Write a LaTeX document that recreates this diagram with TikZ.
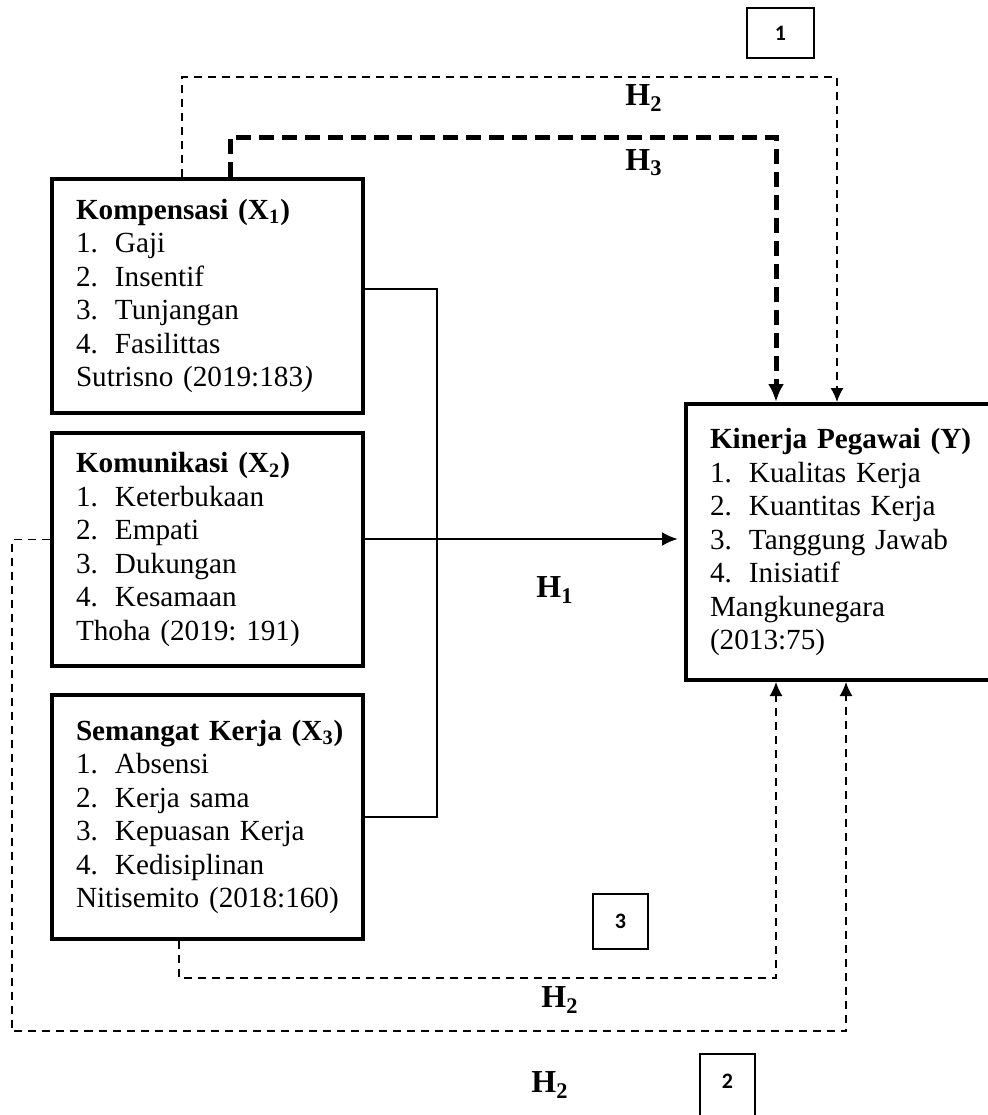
\documentclass[tikz,border=0pt]{standalone}
\usepackage{fontspec}
\setmainfont{Liberation Serif}
\newfontfamily\numfont{Carlito}
\usetikzlibrary{arrows.meta}

\newcommand{\itm}[2]{\makebox[19.5pt][l]{#1}#2}
\newcommand{\boxtitle}[1]{\mbox{\bfseries #1}}

\begin{document}
\begin{tikzpicture}[x=0.5pt,y=0.5pt,>={Latex[length=7pt,width=6.5pt]},
  varbox/.style={draw,line width=2pt,anchor=north west,align=left,inner xsep=12pt,inner ysep=0pt,
    font=\fontsize{14.6pt}{16.75pt}\selectfont\frenchspacing},
  link/.style={line width=1.35pt},
  thindash/.style={line width=0.75pt,dash pattern=on 4pt off 3pt},
  thickdash/.style={line width=2.5pt,dash pattern=on 7.5pt off 4pt},
  hlabel/.style={font=\bfseries\fontsize{16pt}{18pt}\selectfont},
  numbox/.style={draw,line width=1pt,inner sep=0pt,font=\numfont\bfseries\fontsize{11pt}{13pt}\selectfont}]
  \useasboundingbox (0,0) rectangle (988,-1115);

  % variable boxes
  \node[varbox,text width=131.5pt,minimum height=117pt] (kompensasi) at (50,-177)
    {\boxtitle{Kompensasi (X\textsubscript{1})}\\ \itm{1.}{Gaji}\\ \itm{2.}{Insentif}\\
     \itm{3.}{Tunjangan}\\ \itm{4.}{Fasilittas}\\ Sutrisno (2019:183\textit{)}};
  \node[varbox,text width=131.5pt,minimum height=116.5pt] (komunikasi) at (50,-431)
    {\boxtitle{Komunikasi (X\textsubscript{2})}\\ \itm{1.}{Keterbukaan}\\ \itm{2.}{Empati}\\
     \itm{3.}{Dukungan}\\ \itm{4.}{Kesamaan}\\ Thoha (2019: 191)};
  \node[varbox,text width=131.5pt,minimum height=122pt] (semangat) at (50,-693)
    {\boxtitle{Semangat Kerja (X\textsubscript{3})}\\ \itm{1.}{Absensi}\\ \itm{2.}{Kerja sama}\\
     \itm{3.}{Kepuasan Kerja}\\ \itm{4.}{Kedisiplinan}\\ \mbox{Nitisemito (2018:160)}\\[-8pt]};
  \node[varbox,text width=139pt,minimum height=138pt] (kinerja) at (684,-402)
    {\boxtitle{Kinerja Pegawai (Y)}\\ \itm{1.}{Kualitas Kerja}\\ \itm{2.}{Kuantitas Kerja}\\
     \itm{3.}{Tanggung Jawab}\\ \itm{4.}{Inisiatif}\\ Mangkunegara\\ (2013:75)};

  % simultaneous path (H1)
  \draw[link] ([yshift=3.5pt]kompensasi.east) -- ++(72,0) |- (semangat.east);
  \coordinate (h1from) at ([yshift=5.25pt]komunikasi.east);
  \draw[link,->,>={Latex[length=8pt,width=7pt]},shorten >=3pt] (h1from) -- (h1from -| kinerja.west);

  % partial paths
  \coordinate (h2top) at (837,-77);
  \coordinate (h3top) at (776,-137);
  \coordinate (h2low) at (776,-978);
  \coordinate (h2left) at (12,-1031);
  \coordinate (h2right) at (846,-1031);
  \draw[thindash,->] ([xshift=66pt]kompensasi.north west) |- (h2top) -- (h2top |- kinerja.north);
  \draw[thickdash,->,>={Latex[length=9pt,width=8pt]}] ([xshift=90pt]kompensasi.north west) |- (h3top) -- (h3top |- kinerja.north);
  \draw[thindash,->] ([xshift=64.5pt]semangat.south west) |- (h2low) -- (h2low |- kinerja.south);
  \draw[thindash,->] ([yshift=5pt]komunikasi.west) -| (h2left) -- (h2right) -- (h2right |- kinerja.south);

  % labels
  \node[hlabel] (htwotop) at (644,-98) {H\textsubscript{2}};
  \node[hlabel] (hthree) at (644,-163) {H\textsubscript{3}};
  \node[hlabel] (hone) at (555,-590) {H\textsubscript{1}};
  \node[hlabel] (htwolow) at (560,-1000) {H\textsubscript{2}};
  \node[hlabel] (htwobottom) at (550,-1085) {H\textsubscript{2}};

  % numbered tags
  \node[numbox,minimum width=33.5pt,minimum height=25pt] (tagone) at (780.5,-33) {1};
  \node[numbox,minimum width=27.5pt,minimum height=27.5pt] (tagthree) at (620.5,-921.5) {3};
  \node[numbox,minimum width=27.5pt,anchor=north,text height=17pt,text depth=25pt] (tagtwo) at (727.5,-1053) {2};
\end{tikzpicture}
\end{document}
